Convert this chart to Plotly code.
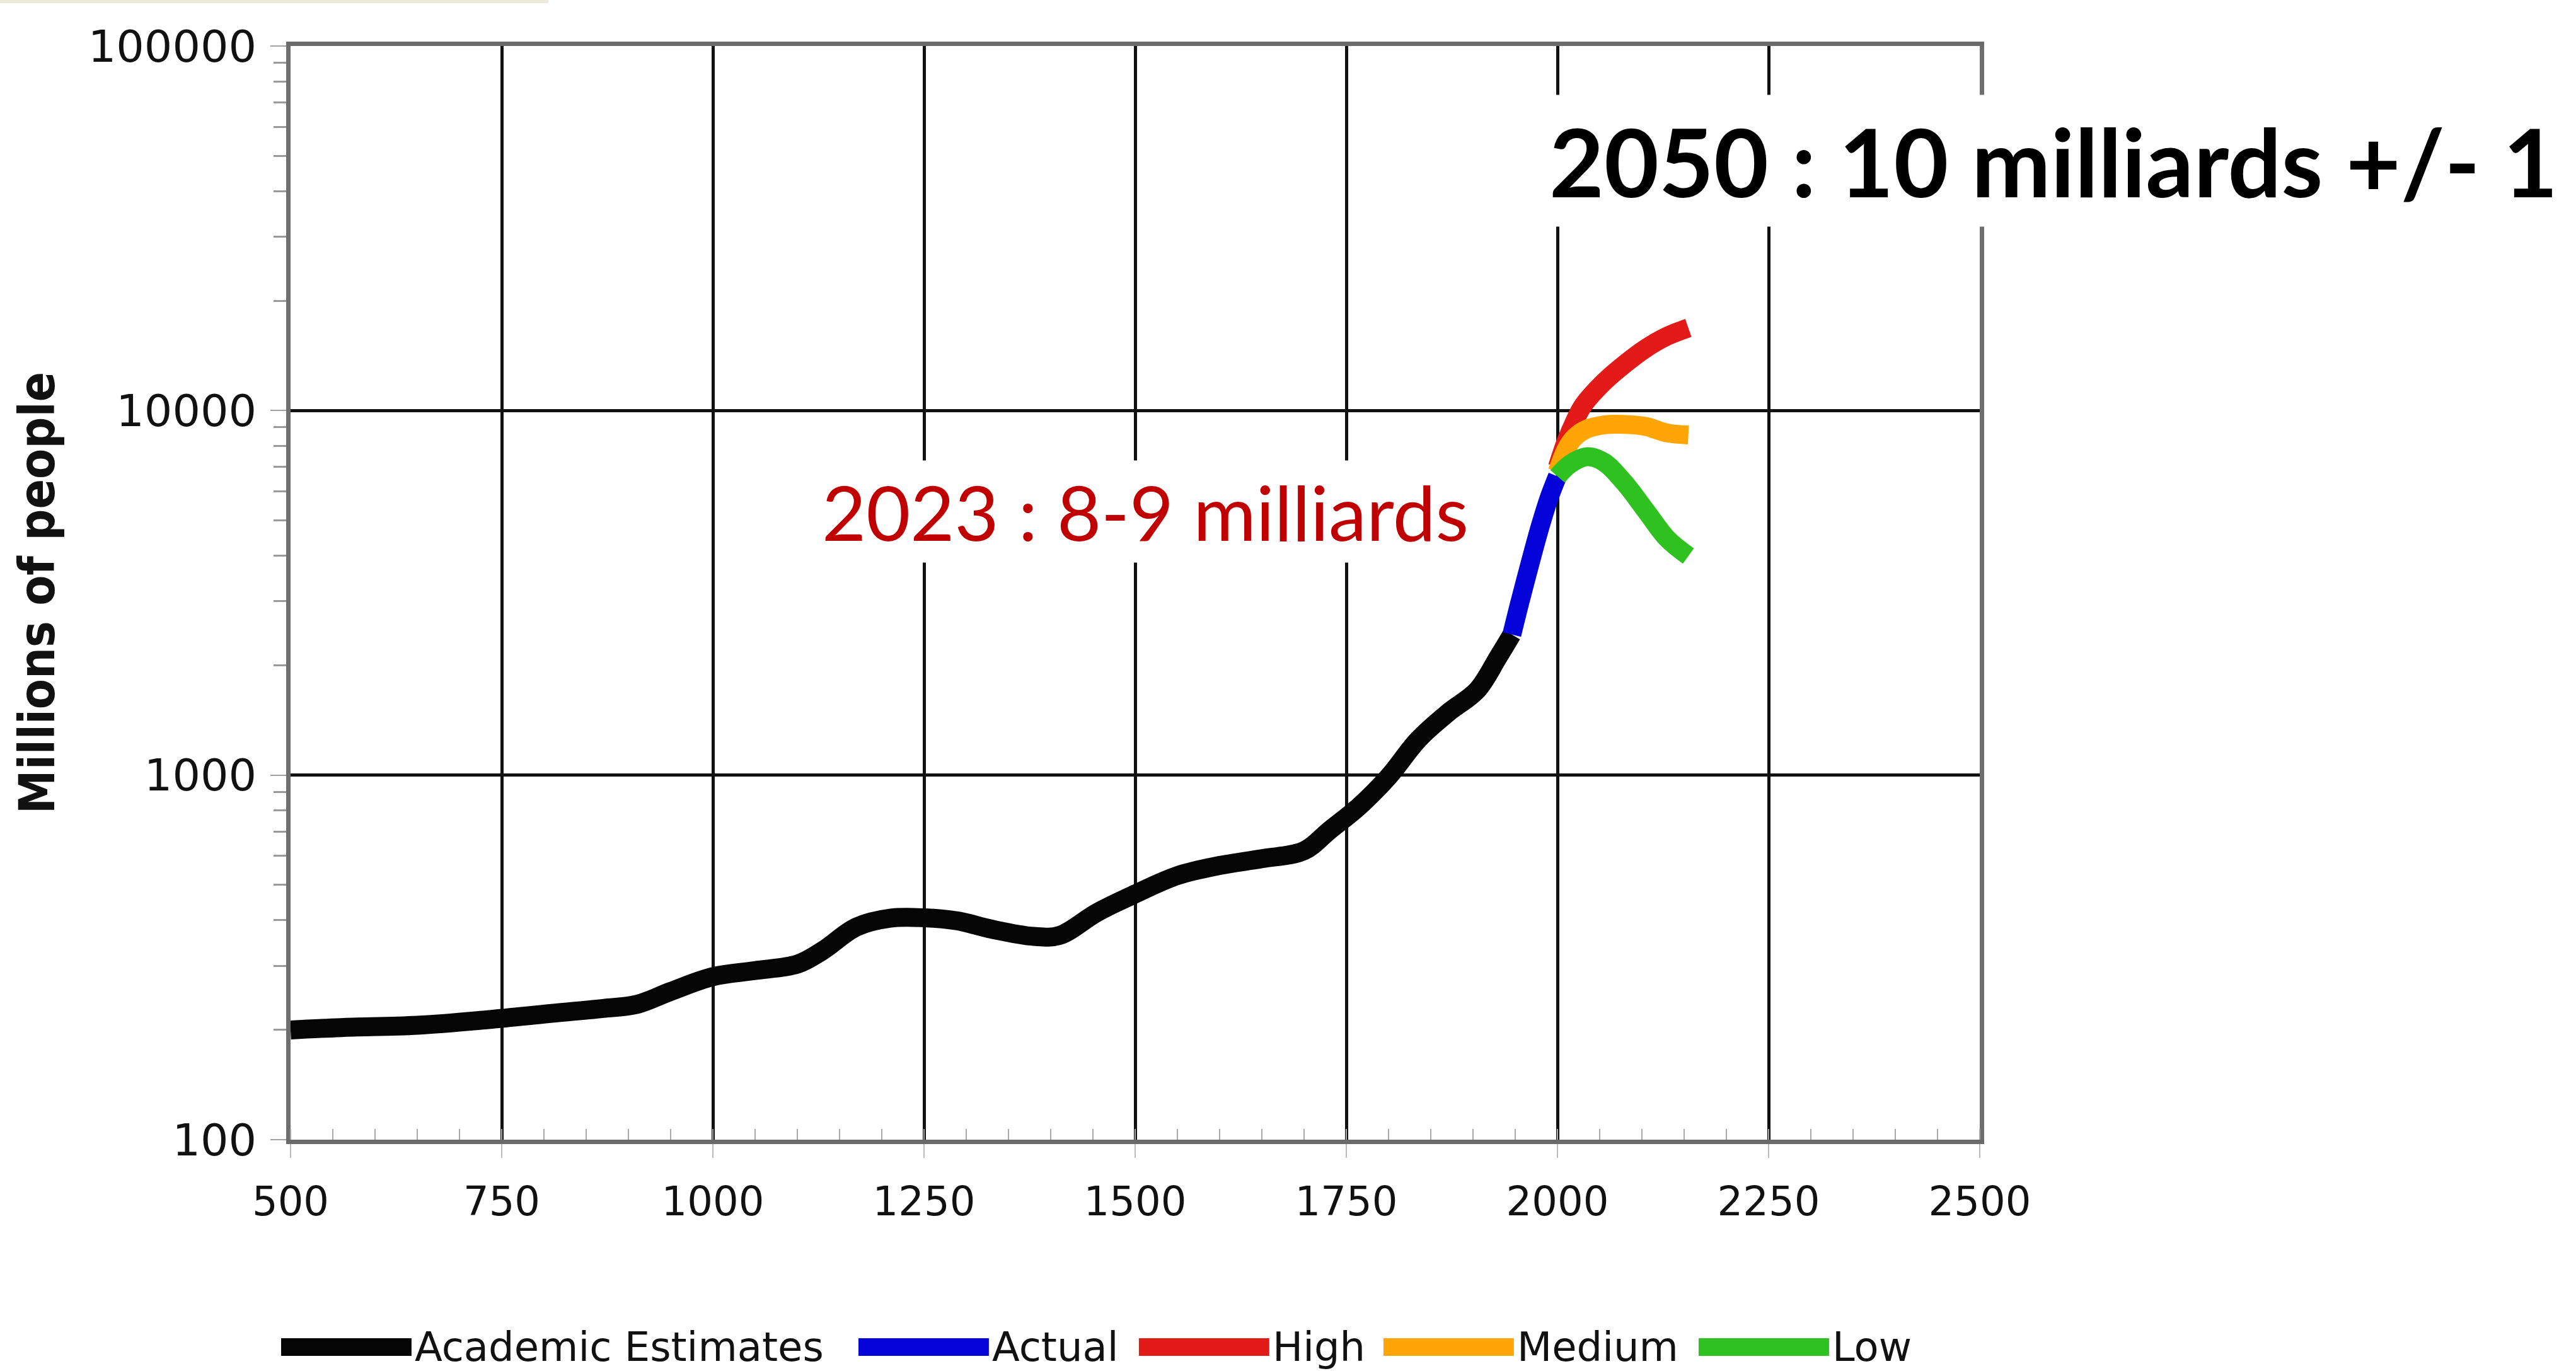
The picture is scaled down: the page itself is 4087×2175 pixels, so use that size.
import plotly.graph_objects as go

# World population, millions of people, by year (AD)
academic_years = [500, 560, 650, 730, 800, 870, 910, 950, 1000, 1050, 1100, 1130, 1170, 1210,
                  1250, 1290, 1330, 1380, 1410, 1455, 1500, 1550, 1600, 1650, 1700, 1730, 1765,
                  1800, 1835, 1870, 1905, 1930, 1946]
academic_pop = [200, 203, 206, 213, 221, 229, 235, 255, 280, 291, 303, 330, 383, 405,
                406, 398, 378, 361, 363, 420, 472, 530, 565, 590, 620, 705, 820,
                990, 1250, 1480, 1710, 2110, 2430]

actual_years = [1946, 1955, 1970, 1980, 1990, 2000]
actual_pop = [2430, 2950, 4000, 4850, 5750, 6600]

high_years = [2000, 2010, 2020, 2030, 2055, 2080, 2105, 2130, 2155]
high_pop = [7000, 8200, 9300, 10300, 11970, 13430, 14830, 16000, 16850]

medium_years = [2000, 2010, 2020, 2035, 2055, 2080, 2105, 2130, 2155]
medium_pop = [6800, 7800, 8430, 8900, 9130, 9160, 9040, 8680, 8570]

low_years = [2000, 2015, 2035, 2055, 2080, 2105, 2130, 2155]
low_pop = [6600, 7130, 7470, 7220, 6310, 5300, 4450, 3990]

x_ticks = [500, 750, 1000, 1250, 1500, 1750, 2000, 2250, 2500]
y_ticks = [100, 1000, 10000, 100000]
y_tick_labels = ["100", "1000", "10000", "100000"]

series_names = ["Academic Estimates", "Actual", "High", "Medium", "Low"]

# styling
series_colors = ["#050505", "#0404DA", "#E21B18", "#FFA505", "#2EC11F"]
LINE_W = 30
TICK_FONT = "DejaVu Sans"
TITLE_FONT = "DejaVu Sans Condensed, Liberation Sans Narrow, DejaVu Sans"
y_minor = [m * 10 ** e for e in (2, 3, 4) for m in range(2, 10)]

fig = go.Figure()
series = [
    (academic_years, academic_pop),
    (actual_years, actual_pop),
    (high_years, high_pop),
    (medium_years, medium_pop),
    (low_years, low_pop),
]
for (xs, ys), name, color in zip(series, series_names, series_colors):
    fig.add_trace(go.Scatter(
        x=xs, y=ys, name=name, mode="lines",
        line=dict(color=color, width=LINE_W, shape="spline", smoothing=1.0),
        showlegend=False,
    ))

fig.update_layout(
    width=4087, height=2175,
    margin=dict(l=461, r=946, t=73, b=367, pad=0),
    paper_bgcolor="white", plot_bgcolor="white",
    font=dict(family=TICK_FONT, color="#111111"),
    showlegend=False,
    xaxis=dict(
        range=[500, 2500], tickvals=x_ticks,
        showgrid=True, gridcolor="#111111", gridwidth=5,
        showline=True, linecolor="#6a6a6a", linewidth=7, mirror=True,
        ticks="outside", ticklen=22, tickcolor="#bbbbbb", tickwidth=2,
        minor=dict(dtick=50, tick0=500, ticks="inside", ticklen=17,
                   tickcolor="#a8a8a8", tickwidth=2, showgrid=False),
        tickfont=dict(family=TICK_FONT, size=64, color="#111111"),
        ticklabelstandoff=14,
        zeroline=False,
    ),
    yaxis=dict(
        type="log", range=[2, 5], tickvals=y_ticks, ticktext=y_tick_labels,
        showgrid=True, gridcolor="#111111", gridwidth=5,
        showline=True, linecolor="#6e6e6e", linewidth=7, mirror=True,
        ticks="outside", ticklen=25, tickcolor="#a0a0a0", tickwidth=2,
        minor=dict(tickvals=y_minor, ticks="outside", ticklen=20,
                   tickcolor="#9a9a9a", tickwidth=3, showgrid=False),
        tickfont=dict(family=TICK_FONT, size=70, color="#111111"),
        ticklabelstandoff=8,
        title=dict(text="<b>Millions of people</b>", standoff=30,
                   font=dict(family=TITLE_FONT, size=78, color="#111111")),
        zeroline=False,
    ),
    yaxis2=dict(
        type="log", range=[2, 5], overlaying="y", side="left",
        showgrid=False, showticklabels=False, showline=False, ticks="",
        tickvals=y_ticks,
        minor=dict(tickvals=y_minor, ticks="inside", ticklen=17,
                   tickcolor="#9a9a9a", tickwidth=3, showgrid=False),
        zeroline=False,
    ),
)

# faint strip along the top-left edge of the page
fig.add_shape(type="rect", xref="paper", yref="paper",
              x0=-0.172, x1=0.1526, y0=1.0392, y1=1.045,
              fillcolor="#ECEAD8", line_width=0, layer="below")

# headline annotations
fig.add_annotation(
    xref="paper", yref="paper", x=1.0437, y=0.895,
    text="<b>2050 : 10 milliards +/- 1</b>", showarrow=False,
    xanchor="center", yanchor="middle",
    font=dict(family="Lato", size=150, color="#000000"),
    bgcolor="white", borderpad=14,
)
fig.add_annotation(
    xref="paper", yref="paper", x=0.506, y=0.5746,
    text="2023 : 8-9 milliards", showarrow=False,
    xanchor="center", yanchor="middle",
    font=dict(family="Lato", size=121, color="#C00000"),
    bgcolor="white", borderpad=8,
)

# legend row beneath the axis: long swatch followed by the series name
legend_swatch_x = [-0.0056, 0.3362, 0.5022, 0.6470, 0.8336]
swatch_w = 0.0772
legend_y = -0.1896
for name, color, x0 in zip(series_names, series_colors, legend_swatch_x):
    fig.add_shape(type="rect", xref="paper", yref="paper",
                  x0=x0, x1=x0 + swatch_w, y0=legend_y - 0.0081, y1=legend_y + 0.0081,
                  fillcolor=color, line_width=0)
    fig.add_annotation(xref="paper", yref="paper", x=x0 + swatch_w + 0.0012, y=legend_y,
                       text=name, showarrow=False, xanchor="left", yanchor="middle",
                       font=dict(family=TICK_FONT, size=64, color="#111111"))

fig.write_html("out.html", config={"displayModeBar": False})
